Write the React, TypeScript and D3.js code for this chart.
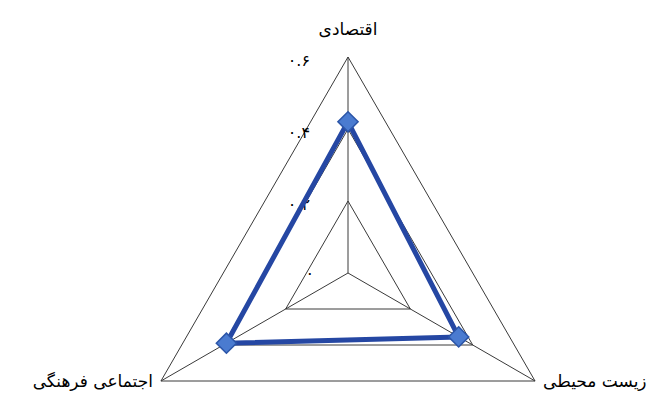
import React, { useRef, useEffect } from 'react';
import * as d3 from 'd3';

// axes of the radar (clockwise from top)
const axisLabels = ['اقتصادی', 'زیست محیطی', 'اجتماعی فرهنگی'];
// series values for each axis
const seriesValues = [0.42, 0.355, 0.39];
// radial ticks
const tickValues = [0, 0.2, 0.4, 0.6];
const tickLabels = ['۰', '۰.۲', '۰.۴', '۰.۶'];

function App() {
  const svgRef = useRef<SVGSVGElement | null>(null);

  useEffect(() => {
    const width = 667;
    const height = 397;
    const cx = 348;
    const cy = 273;
    const radius = 216;

    const svg = d3.select(svgRef.current);
    svg.selectAll('*').remove();

    svg
      .append('rect')
      .attr('width', width)
      .attr('height', height)
      .style('fill', '#ffffff');

    const g = svg.append('g').attr('transform', `translate(${cx},${cy})`);

    // radial scale
    const r = d3.scaleLinear().domain([0, 0.6]).range([0, radius]);
    const angle = (i: number) => (i * 2 * Math.PI) / axisLabels.length;
    const point = (i: number, v: number): [number, number] => [
      r(v) * Math.sin(angle(i)),
      -r(v) * Math.cos(angle(i)),
    ];

    // grid triangles
    g.selectAll('.grid')
      .data(tickValues.filter((t) => t > 0))
      .enter()
      .append('path')
      .attr('class', 'grid')
      .attr('d', (t) =>
        d3.line()(axisLabels.map((_, i) => point(i, t))) + 'Z',
      )
      .style('fill', 'none')
      .style('stroke', '#3a3a3a')
      .style('stroke-width', 1);

    // spokes
    g.selectAll('.spoke')
      .data(axisLabels)
      .enter()
      .append('line')
      .attr('class', 'spoke')
      .attr('x1', 0)
      .attr('y1', 0)
      .attr('x2', (_, i) => point(i, 0.6)[0])
      .attr('y2', (_, i) => point(i, 0.6)[1])
      .style('stroke', '#3a3a3a')
      .style('stroke-width', 1);

    // tick labels along the top axis
    g.selectAll('.tick-label')
      .data(tickValues)
      .enter()
      .append('text')
      .attr('class', 'tick-label')
      .attr('x', (t) => (t === 0 ? -34 : -38))
      .attr('y', (t) => -r(t) + (t === 0 ? 6 : 9))
      .attr('direction', 'ltr')
      .attr('text-anchor', 'end')
      .style('font-family', '"DejaVu Sans", sans-serif')
      .style('font-size', '16px')
      .style('fill', '#000000')
      .text((_, i) => tickLabels[i]);

    // series line
    const pts = seriesValues.map((v, i) => point(i, v));
    g.append('path')
      .attr('d', d3.line()(pts) + 'Z')
      .style('fill', 'none')
      .style('stroke', '#2547a3')
      .style('stroke-width', 5)
      .style('stroke-linejoin', 'round');

    // diamond markers
    g.selectAll('.marker')
      .data(pts)
      .enter()
      .append('path')
      .attr('class', 'marker')
      .attr('transform', (d) => `translate(${d[0]},${d[1]})`)
      .attr('d', d3.symbol().type(d3.symbolDiamond2).size(260)())
      .style('fill', '#4a7bd0')
      .style('stroke', '#2b55a8')
      .style('stroke-width', 1.5);

    // axis labels
    const labelPos = [
      { x: 0, y: -radius - 22, anchor: 'middle' },
      { x: radius * 0.866 + 8, y: radius / 2 + 6, anchor: 'start' },
      { x: -radius * 0.866 - 8, y: radius / 2 + 6, anchor: 'end' },
    ];
    g.selectAll('.axis-label')
      .data(axisLabels)
      .enter()
      .append('text')
      .attr('class', 'axis-label')
      .attr('x', (_, i) => labelPos[i].x)
      .attr('y', (_, i) => labelPos[i].y)
      .attr('text-anchor', (_, i) => labelPos[i].anchor)
      .attr('direction', 'ltr')
      .style('font-family', '"DejaVu Sans", sans-serif')
      .style('font-size', '17px')
      .style('fill', '#000000')
      .text((d) => d);
  }, []);

  return (
    <svg
      ref={svgRef}
      width={667}
      height={397}
      style={{ position: 'absolute', left: 0, top: 0 }}
    />
  );
}

export default App;
